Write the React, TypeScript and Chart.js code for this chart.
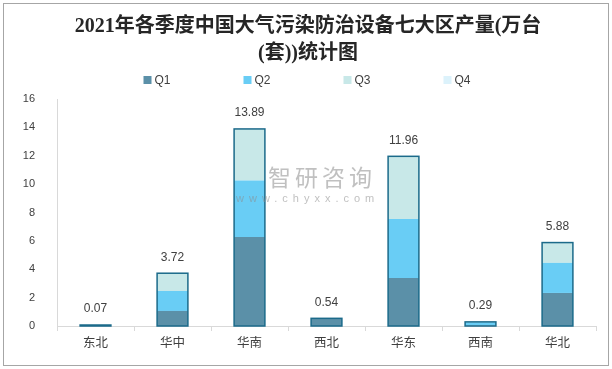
import React, { useEffect, useRef } from "react";
import { Chart, registerables } from "chart.js";

Chart.register(...registerables);

const categories = ["东北", "华中", "华南", "西北", "华东", "西南", "华北"];
const seriesNames = ["Q1", "Q2", "Q3", "Q4"];
const q1 = [0.07, 1.06, 6.28, 0.5, 3.39, 0.03, 2.33];
const q2 = [0, 1.41, 3.97, 0.02, 4.16, 0.24, 2.12];
const q3 = [0, 1.25, 3.64, 0.02, 4.41, 0.02, 1.43];
const q4 = [0, 0, 0, 0, 0, 0, 0];
const seriesValues = [q1, q2, q3, q4];
const seriesColors = ["#5B90A8", "#69CDF5", "#C8E8E8", "#DCF2FB"];
const yMin = 0;
const yMax = 16;
const yStep = 2;
const titleLines = ["2021年各季度中国大气污染防治设备七大区产量(万台", "(套))统计图"];

const SANS = "'Liberation Sans', 'Noto Sans CJK SC', sans-serif";
const CJK = "'Noto Sans CJK SC', 'Liberation Sans', sans-serif";

const decorPlugin = {
  id: "decor",
  beforeDraw(chart: any) {
    const ctx = chart.ctx;
    const W = chart.width;
    ctx.save();
    ctx.fillStyle = "#ffffff";
    ctx.fillRect(0, 0, W, chart.height);
    ctx.strokeStyle = "#a6a6a6";
    ctx.lineWidth = 1;
    ctx.strokeRect(3.5, 3.5, 605, 362);
    // title
    ctx.fillStyle = "#262626";
    ctx.font = "bold 20px 'Liberation Serif', 'Noto Sans CJK SC', serif";
    ctx.textAlign = "center";
    ctx.textBaseline = "middle";
    ctx.fillText(titleLines[0], 308, 27);
    ctx.fillText(titleLines[1], 308, 54);
    // legend
    const spacing = 100;
    const startX = 308 - (spacing * (chart.data.datasets.length - 1) + 29) / 2;
    ctx.font = "12px " + SANS;
    ctx.textAlign = "left";
    chart.data.datasets.forEach((ds: any, k: number) => {
      const x = startX + k * spacing;
      ctx.fillStyle = ds.backgroundColor;
      ctx.fillRect(x, 76, 8, 8);
      ctx.fillStyle = "#404040";
      ctx.fillText(ds.label, x + 11, 80.5);
    });
    ctx.restore();
  },
  afterDatasetsDraw(chart: any) {
    const ctx = chart.ctx;
    const yScale = chart.scales.y;
    const meta0 = chart.getDatasetMeta(0);
    ctx.save();
    categories.forEach((_, i) => {
      const total = seriesValues.reduce((s, arr) => s + arr[i], 0);
      const el = meta0.data[i];
      const w = el.width;
      const x = el.x - w / 2;
      const top = yScale.getPixelForValue(total);
      const bottom = yScale.getPixelForValue(0);
      ctx.strokeStyle = "#1B6A8A";
      ctx.lineWidth = 1.5;
      ctx.strokeRect(x, top, w, bottom - top);
      ctx.fillStyle = "#404040";
      ctx.font = "12px " + SANS;
      ctx.textAlign = "center";
      ctx.textBaseline = "middle";
      ctx.fillText(total.toFixed(2), el.x, top - 16);
    });
    // watermark
    ctx.globalAlpha = 0.55;
    ctx.fillStyle = "#8c8c8c";
    ctx.textAlign = "left";
    ctx.textBaseline = "middle";
    ctx.font = "23px " + CJK;
    (ctx as any).letterSpacing = "4px";
    ctx.fillText("智研咨询", 268, 177);
    ctx.font = "11px " + SANS;
    (ctx as any).letterSpacing = "5px";
    ctx.fillText("www.chyxx.com", 236, 199);
    ctx.restore();
  },
};

export default function App() {
  const ref = useRef<HTMLCanvasElement | null>(null);
  useEffect(() => {
    if (!ref.current) return;
    const chart = new Chart(ref.current, {
      type: "bar",
      data: {
        labels: categories,
        datasets: seriesNames.map((name, k) => ({
          label: name,
          data: seriesValues[k],
          backgroundColor: seriesColors[k],
          borderWidth: 0,
          barPercentage: 0.4,
          categoryPercentage: 1,
        })),
      },
      options: {
        animation: false,
        responsive: false,
        devicePixelRatio: 1,
        layout: { padding: { top: 99, right: 16, left: 0, bottom: 0 } },
        plugins: {
          legend: { display: false },
          title: { display: false },
          tooltip: { enabled: false },
        },
        scales: {
          x: {
            stacked: true,
            grid: {
              display: true,
              offset: true,
              drawOnChartArea: false,
              drawTicks: true,
              tickLength: 5,
              color: "#d9d9d9",
            },
            border: { display: true, color: "#d9d9d9" },
            ticks: { font: { family: CJK, size: 12.5 }, color: "#404040", padding: 4 },
            afterFit: (s: any) => {
              s.height = 43;
            },
          },
          y: {
            stacked: true,
            min: yMin,
            max: yMax,
            ticks: { stepSize: yStep, padding: 14, font: { family: SANS, size: 11 }, color: "#404040" },
            grid: { display: false },
            border: { display: true, color: "#d9d9d9" },
            afterFit: (s: any) => {
              s.width = 57;
            },
          },
        },
      } as any,
      plugins: [decorPlugin],
    });
    return () => chart.destroy();
  }, []);
  return (
    <div style={{ width: 612, height: 369, position: "relative" }}>
      <style>{`body{margin:0}`}</style>
      <canvas ref={ref} width={612} height={369} style={{ width: 612, height: 369, display: "block" }} />
    </div>
  );
}
